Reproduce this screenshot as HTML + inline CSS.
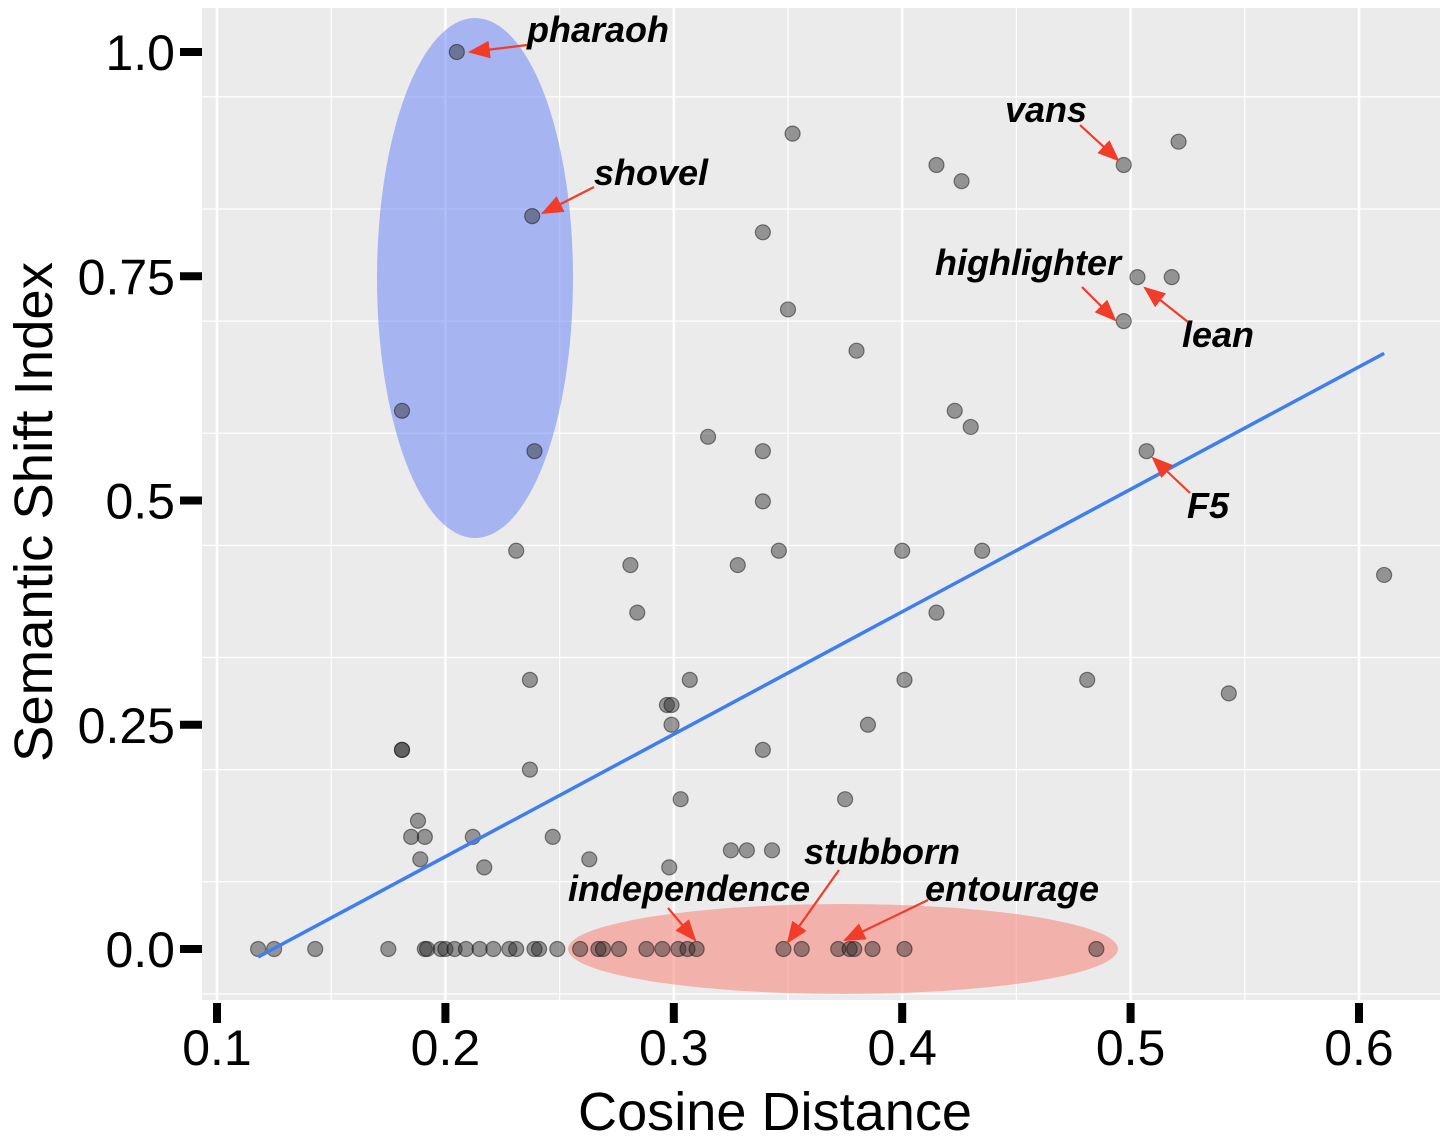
<!DOCTYPE html>
<html><head><meta charset="utf-8"><style>
html,body{margin:0;padding:0;background:#fff;}
svg{display:block;font-family:"Liberation Sans",sans-serif;}
</style></head><body>
<svg id="chart" width="1448" height="1138" viewBox="0 0 1448 1138" xmlns="http://www.w3.org/2000/svg">
<defs><marker id="ah" markerWidth="10" markerHeight="8" refX="9" refY="4" orient="auto"><path d="M0,0 L10,4 L0,8 z" fill="#f03c28"/></marker></defs>
<rect x="202" y="8" width="1238" height="992" fill="#ebebeb"/>
<g id="grid"></g>
<g id="ellipses"></g>
<g id="points"></g>
<g id="fit"></g>
<g id="axes"></g>
<g id="annot"></g>
<text x="775" y="1130" font-size="54" text-anchor="middle" textLength="394" lengthAdjust="spacingAndGlyphs">Cosine Distance</text>
<text transform="translate(52,512) rotate(-90)" font-size="54" text-anchor="middle" textLength="500" lengthAdjust="spacingAndGlyphs">Semantic Shift Index</text>
</svg>
<script>
const xs=[0.205,0.238,0.181,0.239,0.352,0.415,0.426,0.339,0.350,0.380,0.497,0.521,0.503,0.518,0.497,0.315,0.339,0.423,0.430,0.507,0.339,0.231,0.281,0.284,0.328,0.346,0.400,0.435,0.415,0.611,0.237,0.297,0.299,0.307,0.299,0.401,0.481,0.543,0.385,0.181,0.181,0.339,0.237,0.303,0.375,0.188,0.185,0.191,0.212,0.247,0.189,0.217,0.263,0.298,0.325,0.332,0.343,
0.118,0.125,0.143,0.175,0.191,0.192,0.198,0.200,0.204,0.209,0.215,0.221,0.228,0.231,0.239,0.241,0.249,0.259,0.267,0.269,0.276,0.288,0.295,0.302,0.306,0.310,0.348,0.356,0.372,0.377,0.379,0.387,0.401,0.485];
const ys=[1.0,0.817,0.600,0.555,0.909,0.874,0.856,0.799,0.713,0.667,0.874,0.900,0.749,0.749,0.700,0.571,0.555,0.600,0.582,0.555,0.499,0.444,0.428,0.375,0.428,0.444,0.444,0.444,0.375,0.417,0.300,0.272,0.272,0.300,0.250,0.300,0.300,0.285,0.250,0.222,0.222,0.222,0.200,0.167,0.167,0.143,0.125,0.125,0.125,0.125,0.100,0.091,0.100,0.091,0.110,0.110,0.110,
0,0,0,0,0,0,0,0,0,0,0,0,0,0,0,0,0,0,0,0,0,0,0,0,0,0,0,0,0,0,0,0,0,0];
const xTicks=[0.1,0.2,0.3,0.4,0.5,0.6];
const xTickLabels=["0.1","0.2","0.3","0.4","0.5","0.6"];
const yTicks=[0,0.25,0.5,0.75,1.0];
const yTickLabels=["0.0","0.25","0.5","0.75","1.0"];
const fitSlope=[1.365];
const fitIntercept=[-0.170];
const fitRange=[0.118,0.611];
const X=v=>217+(v-0.1)*2284;
const Y=v=>949-v*897;
const NS="http://www.w3.org/2000/svg";
function mk(tag,attrs,parent){const e=document.createElementNS(NS,tag);for(const k in attrs)e.setAttribute(k,attrs[k]);parent.appendChild(e);return e;}
const grid=document.getElementById('grid');
for(let v=0.05;v<=0.66;v+=0.05){const major=Math.abs(v*10-Math.round(v*10))<0.01;
 const l=mk('line',{x1:X(v),x2:X(v),y1:8,y2:1000,stroke:'#fff','stroke-width':major?2.5:1.2},grid);
 
 }
for(let v=-0.05;v<=1.1;v+=0.125){if(Y(v)<8||Y(v)>1000)continue;const major=Math.abs(v*4-Math.round(v*4))<0.01;
 const l=mk('line',{x1:202,x2:1440,y1:Y(v),y2:Y(v),stroke:'#fff','stroke-width':major?2.5:1.2},grid);
 
 }
const ell=document.getElementById('ellipses');
let e1=mk('ellipse',{cx:475,cy:278,rx:98,ry:260,fill:'rgba(110,135,245,0.55)'},ell);


let e2=mk('ellipse',{cx:843,cy:949,rx:275,ry:45,fill:'rgba(250,130,120,0.55)'},ell);


const pts=document.getElementById('points');
for(let i=0;i<xs.length;i++){const c=mk('circle',{cx:X(xs[i]),cy:Y(ys[i]),r:7.5,fill:'rgba(40,40,40,0.45)',stroke:'rgba(0,0,0,0.45)','stroke-width':1.2},pts);
 
 }
const fit=document.getElementById('fit');
const fl=mk('line',{x1:X(fitRange[0]),y1:Y(fitIntercept[0]+fitSlope[0]*fitRange[0]),x2:X(fitRange[1]),y2:Y(fitIntercept[0]+fitSlope[0]*fitRange[1]),stroke:'#3e7ef0','stroke-width':3.5},fit);


const ax=document.getElementById('axes');
xTicks.forEach((v,i)=>{const t=mk('rect',{x:X(v)-4,y:1003,width:8,height:20,fill:'#000'},ax);
 
 
 const tx=mk('text',{x:X(v),y:1065,'font-size':50,'text-anchor':'middle'},ax);tx.textContent=xTickLabels[i];
 
 });
yTicks.forEach((v,i)=>{const t=mk('rect',{x:180,y:Y(v)-4,width:22,height:8,fill:'#000'},ax);
 
 
 const tx=mk('text',{x:175,y:Y(v)+18,'font-size':50,'text-anchor':'end'},ax);tx.textContent=yTickLabels[i];
 
 });
const an=document.getElementById('annot');
const labels=[["pharaoh",527,42,527,45,470,52],["shovel",594,185,594,187,543,213],["vans",1005,122,1080,125,1118,160],["highlighter",935,275,1082,287,1115,320],["lean",1182,347,1188,322,1145,288],["F5",1187,518,1190,493,1153,458],["stubborn",804,864,839,870,788,942],["independence",568,901,668,908,695,940],["entourage",925,901,928,900,845,940]];
labels.forEach(a=>{const t=mk('text',{x:a[1],y:a[2],'font-size':36,'font-weight':'bold','font-style':'italic',fill:'#000'},an);t.textContent=a[0];
 
 
 const l=mk('line',{x1:a[3],y1:a[4],x2:a[5],y2:a[6],stroke:'#f03c28','stroke-width':2.2,'marker-end':'url(#ah)'},an);
 
 });
</script>
</body></html>
